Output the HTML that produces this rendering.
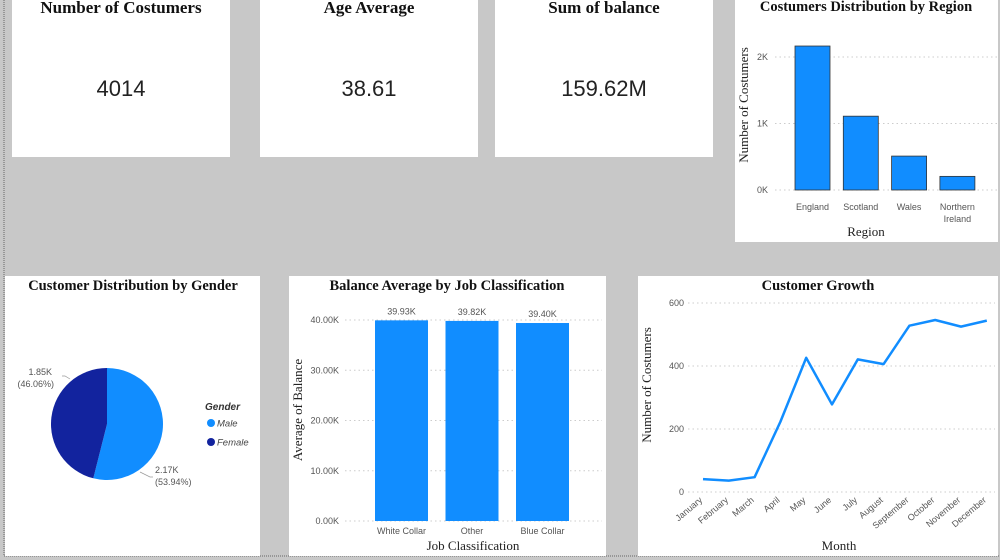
<!DOCTYPE html>
<html><head><meta charset="utf-8">
<style>
body{margin:0;background:#c8c8c8;}
svg{display:block;font-family:"Liberation Sans",sans-serif;}
.t{font-family:"Liberation Serif",serif;font-weight:bold;font-size:14.5px;fill:#111;text-anchor:middle;}
.at{font-family:"Liberation Serif",serif;font-size:13px;fill:#222;text-anchor:middle;}
.tk{font-size:9px;fill:#555;}
.g{stroke:#ccc;stroke-dasharray:1.5 3;stroke-width:1;}
</style></head><body>
<svg id="s" width="1000" height="560" viewBox="0 0 1000 560">
<line x1="4" y1="0" x2="4" y2="556" stroke="#666" stroke-dasharray="1 1"/>
<line x1="4" y1="556" x2="1000" y2="556" stroke="#666" stroke-dasharray="1 1"/>
<g>
<rect x="12" y="0" width="218" height="157" fill="#fff"/>
<text class="t" x="121" y="13" style="font-size:17px">Number of Costumers</text>
<text x="121" y="96" text-anchor="middle" font-size="22" fill="#222">4014</text></g>
<g>
<rect x="260" y="0" width="218" height="157" fill="#fff"/>
<text class="t" x="369" y="13" style="font-size:17px">Age Average</text>
<text x="369" y="96" text-anchor="middle" font-size="22" fill="#222">38.61</text></g>
<g>
<rect x="495" y="0" width="218" height="157" fill="#fff"/>
<text class="t" x="604" y="13" style="font-size:17px">Sum of balance</text>
<text x="604" y="96" text-anchor="middle" font-size="22" fill="#222">159.62M</text></g>
<g id="region">
<rect x="735" y="0" width="263" height="242" fill="#fff"/>
<text class="t" x="866" y="11">Costumers Distribution by Region</text>
<text class="at" transform="translate(748,105) rotate(-90)">Number of Costumers</text>
<text class="at" x="866" y="236">Region</text></g>
<g id="gender">
<rect x="5" y="276" width="255" height="280" fill="#fff"/>
<text class="t" x="133" y="290">Customer Distribution by Gender</text>
<text x="205" y="410" font-size="10" font-weight="bold" font-style="italic" fill="#333">Gender</text>
<g><circle cx="211" cy="423" r="4" fill="#118dff"/><text x="217" y="426.5" font-size="9.5" font-style="italic" fill="#444">Male</text></g>
<g><circle cx="211" cy="442" r="4" fill="#12239e"/><text x="217" y="445.5" font-size="9.5" font-style="italic" fill="#444">Female</text></g></g>
<g id="balance">
<rect x="289" y="276" width="317" height="280" fill="#fff"/>
<text class="t" x="447" y="290">Balance Average by Job Classification</text>
<text class="at" transform="translate(302,410) rotate(-90)">Average of Balance</text>
<text class="at" x="473" y="550">Job Classification</text></g>
<g id="growth">
<rect x="638" y="276" width="360" height="280" fill="#fff"/>
<text class="t" x="818" y="290">Customer Growth</text>
<text class="at" transform="translate(651,385) rotate(-90)">Number of Costumers</text>
<text class="at" x="839" y="550">Month</text></g>
</svg>
<script>
const NS="http://www.w3.org/2000/svg";
function mk(p,tag,at,txt){const e=document.createElementNS(NS,tag);for(const k in at)e.setAttribute(k,at[k]);if(txt!==undefined)e.textContent=txt;document.getElementById(p).appendChild(e);return e;}
// Region
const regionCats=["England","Scotland","Wales","Northern Ireland"];
const regionVals=[2165,1110,510,205];
const regionTicks=[0,1000,2000];
const regionTickLabels=["0K","1K","2K"];
const ry=v=>190-v*0.0665;
regionTicks.forEach((t,i)=>{
 const l=mk("region","line",{x1:775,x2:997,y1:ry(t),y2:ry(t),class:"g"});
 
 
 const tx=mk("region","text",{x:768,y:ry(t)+3,"text-anchor":"end",class:"tk"},regionTickLabels[i]);
 
 
});
regionCats.forEach((c,i)=>{
 const cx=812.5+i*48.3;
 const b=mk("region","rect",{x:cx-17.5,y:ry(regionVals[i]),width:35,height:190-ry(regionVals[i]),fill:"#118dff",stroke:"#333","stroke-width":0.8});
 
 
 const parts=c==="Northern Ireland"?["Northern","Ireland"]:[c];
 parts.forEach((p,j)=>{
  const t=mk("region","text",{x:cx,y:210+j*12,"text-anchor":"middle",class:"tk"},p);
  
  
 });
});
// Gender pie
const genderCats=["Male","Female"];
const genderVals=[2165,1849];
const genderLabels=["2.17K","1.85K"];
const gtot=genderVals.reduce((a,b)=>a+b,0);
const pcx=107,pcy=424,pr=56;
// label layout (styling, not data)
const labelLayout=[{pts:"140,472 150,477 153,477",x:155,y:473,anchor:"start"},{pts:"70,379 65,376 62,376",x:54,y:375,anchor:"end"}];
let ang=0;
genderCats.forEach((c,i)=>{
 const a0=ang,a1=ang+genderVals[i]/gtot*2*Math.PI;ang=a1;
 const p=(a)=>[pcx+pr*Math.sin(a),pcy-pr*Math.cos(a)];
 const [x0,y0]=p(a0),[x1,y1]=p(a1);
 const s=mk("gender","path",{d:`M${pcx},${pcy}L${x0},${y0}A${pr},${pr} 0 ${a1-a0>Math.PI?1:0} 1 ${x1},${y1}Z`,fill:i?"#12239e":"#118dff"});
 
 
 const pct=(genderVals[i]/gtot*100).toFixed(2)+"%";
 const L=labelLayout[i];
 mk("gender","polyline",{points:L.pts,fill:"none",stroke:"#999","stroke-width":0.7});
 const t1=mk("gender","text",{x:L.anchor==="end"?L.x-2:L.x,y:L.y,"text-anchor":L.anchor,class:"tk"},genderLabels[i]);
 
 
 const t2=mk("gender","text",{x:L.x,y:L.y+12,"text-anchor":L.anchor,class:"tk"},"("+pct+")");
 
 
});
// Balance
const jobCats=["White Collar","Other","Blue Collar"];
const jobVals=[39.93,39.82,39.40];
const jobTicks=[0,10,20,30,40];
const jobTickLabels=["0.00K","10.00K","20.00K","30.00K","40.00K"];
const by=v=>521-v*5.025;
jobTicks.forEach((t,i)=>{
 const l=mk("balance","line",{x1:345,x2:602,y1:by(t),y2:by(t),class:"g"});
 
 
 const tx=mk("balance","text",{x:339,y:by(t)+3,"text-anchor":"end",class:"tk"},jobTickLabels[i]);
 
 
});
jobCats.forEach((c,i)=>{
 const cx=401.5+i*70.5;
 const b=mk("balance","rect",{x:cx-26.5,y:by(jobVals[i]),width:53,height:521-by(jobVals[i]),fill:"#118dff"});
 
 
 const v=mk("balance","text",{x:cx,y:by(jobVals[i])-6,"text-anchor":"middle",class:"tk",fill:"#333"},jobVals[i].toFixed(2)+"K");
 
 
 const t=mk("balance","text",{x:cx,y:534,"text-anchor":"middle",class:"tk"},c);
 
 
});
// Growth
const months=["January","February","March","April","May","June","July","August","September","October","November","December"];
const growthVals=[41,36,47,223,426,278,421,406,528,546,525,544];
const growthTicks=[0,200,400,600];
const gy=v=>492-v*0.315, gx=i=>703+i*25.8;
growthTicks.forEach(t=>{
 const l=mk("growth","line",{x1:688,x2:995,y1:gy(t),y2:gy(t),class:"g"});
 
 
 const tx=mk("growth","text",{x:684,y:gy(t)+3,"text-anchor":"end",class:"tk"},t);
 
 
});
const line=mk("growth","polyline",{points:growthVals.map((v,i)=>gx(i)+","+gy(v)).join(" "),fill:"none",stroke:"#118dff","stroke-width":2.5,"stroke-linejoin":"round"});


months.forEach((m,i)=>{
 const t=mk("growth","text",{x:gx(i),y:501,"text-anchor":"end",class:"tk",transform:`rotate(-40 ${gx(i)} 501)`},m);
 
 
});
</script>
</body></html>
